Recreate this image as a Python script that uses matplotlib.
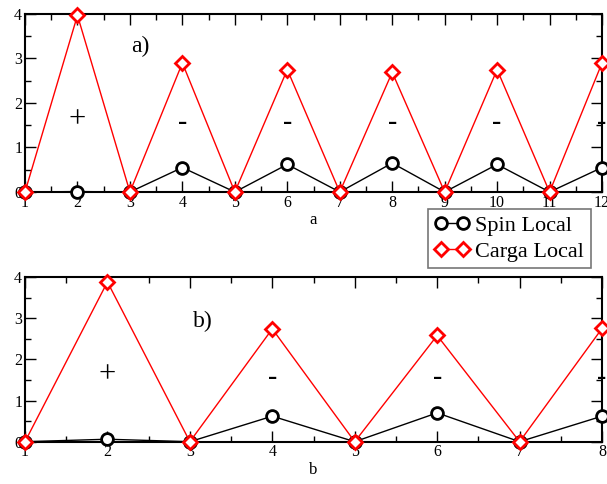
import numpy as np
import matplotlib.pyplot as plt
from matplotlib.ticker import MultipleLocator

plt.rcParams['font.family'] = ['Liberation Serif', 'DejaVu Serif']

# --- data ---
sites_a = [1, 2, 3, 4, 5, 6, 7, 8, 9, 10, 11, 12]
spin_a = [0.0, 0.01, 0.0, 0.55, 0.0, 0.62, 0.0, 0.65, 0.0, 0.62, 0.0, 0.55]
carga_a = [0.0, 3.97, 0.0, 2.90, 0.0, 2.75, 0.0, 2.69, 0.0, 2.75, 0.0, 2.90]
signs_a = ["+", "-", "-", "-", "-", "-"]
sign_x_a = [2, 4, 6, 8, 10, 12]

sites_b = [1, 2, 3, 4, 5, 6, 7, 8]
spin_b = [0.0, 0.06, 0.0, 0.62, 0.0, 0.70, 0.0, 0.62]
carga_b = [0.0, 3.88, 0.0, 2.74, 0.0, 2.58, 0.0, 2.75]
signs_b = ["+", "-", "-", "-"]
sign_x_b = [2, 4, 6, 8]

fig = plt.figure(figsize=(6.07, 4.84), dpi=100)
ax1 = fig.add_axes([0.0412, 0.6033, 0.9506, 0.3678])
ax2 = fig.add_axes([0.0412, 0.0874, 0.9506, 0.3403])


def draw(ax, x, spin, carga, signs, sign_x, sign_y, tag, tag_xy, xlabel):
    ax.plot(x, spin, color="black", lw=1.0, marker="o", ms=8.5, mfc="white",
            mec="black", mew=2.0, label="Spin Local", zorder=3, clip_on=False)
    ax.plot(x, carga, color="red", lw=1.0, marker="D", ms=7, mfc="white",
            mec="red", mew=2.0, label="Carga Local", zorder=4, clip_on=False)
    for s, sx in zip(signs, sign_x):
        if s == "+":
            ax.text(sx, sign_y + 0.06, "+", fontsize=22, ha="center", va="center")
        else:
            ax.text(sx, sign_y, "-", fontsize=20, ha="center", va="center",
                    fontweight="bold")
    ax.text(tag_xy[0], tag_xy[1], tag, fontsize=17, ha="center", va="center")
    ax.set_xlim(x[0], x[-1])
    ax.set_ylim(0, 4)
    ax.xaxis.set_major_locator(MultipleLocator(1))
    ax.xaxis.set_minor_locator(MultipleLocator(0.5))
    ax.yaxis.set_major_locator(MultipleLocator(1))
    ax.yaxis.set_minor_locator(MultipleLocator(0.5))
    ax.tick_params(which="both", direction="in", top=True, right=True,
                   labelsize=11.5, pad=2)
    ax.tick_params(which="major", length=8, width=1)
    ax.tick_params(which="minor", length=4, width=1)
    for sp in ax.spines.values():
        sp.set_linewidth(1.5)
    ax.set_xlabel(xlabel, fontsize=12, labelpad=1)


draw(ax1, sites_a, spin_a, carga_a, signs_a, sign_x_a, 1.57, "a)", (3.2, 3.27), "a")
draw(ax2, sites_b, spin_b, carga_b, signs_b, sign_x_b, 1.56, "b)", (3.16, 2.91), "b")

leg = ax1.legend(loc="upper left", bbox_to_anchor=(0.698, -0.094), fontsize=16,
                 frameon=True, fancybox=False, edgecolor="#555555",
                 handlelength=1.6, handletextpad=0.25, borderpad=0.29,
                 labelspacing=0.25, borderaxespad=0, numpoints=2)
leg.get_frame().set_linewidth(1.2)

fig.savefig("out.png", dpi=100)
